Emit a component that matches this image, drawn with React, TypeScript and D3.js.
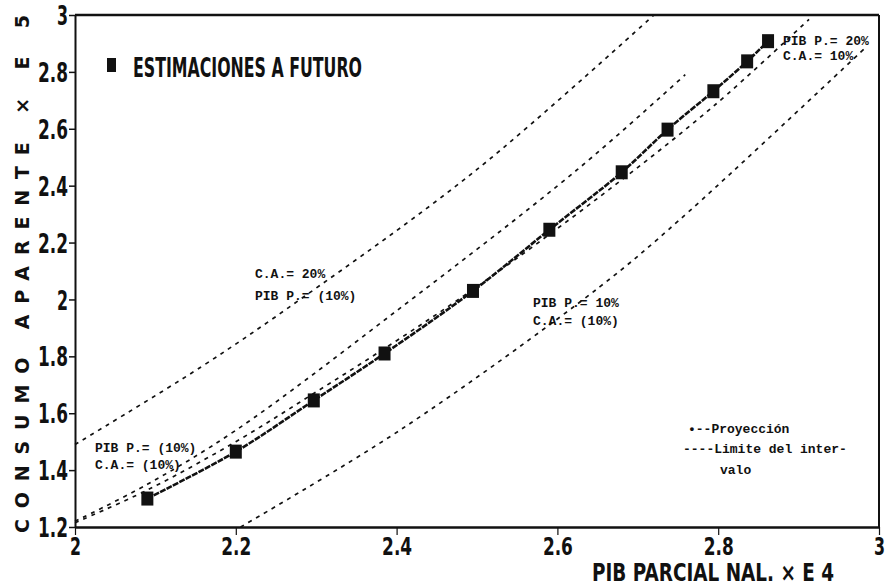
import React, { useEffect, useRef } from 'react';
import * as d3 from 'd3';

// projection points (PIB parcial x E4 vs consumo aparente x E5)
const projX = [2.09, 2.2, 2.297, 2.385, 2.495, 2.59, 2.68, 2.737, 2.794, 2.836, 2.862];
const projY = [1.3, 1.465, 1.645, 1.81, 2.03, 2.245, 2.447, 2.597, 2.732, 2.837, 2.908];

// interval limit curves
const limCA20X = [2.0, 2.157, 2.28, 2.5, 2.72];
const limCA20Y = [1.49, 1.763, 2.0, 2.457, 3.0];

const limPib10X = [2.0, 2.09, 2.2, 2.4, 2.625, 2.759];
const limPib10Y = [1.22, 1.35, 1.54, 1.96, 2.457, 2.79];

const limPib20X = [2.0, 2.09, 2.2, 2.3, 2.4, 2.5, 2.653, 2.794, 2.913];
const limPib20Y = [1.215, 1.33, 1.5, 1.675, 1.855, 2.045, 2.362, 2.679, 2.985];

const limCA10X = [2.206, 2.405, 2.653, 2.752, 2.985];
const limCA10Y = [1.2, 1.542, 2.045, 2.28, 2.89];

const xTicks = [2, 2.2, 2.4, 2.6, 2.8, 3];
const yTicks = [1.2, 1.4, 1.6, 1.8, 2, 2.2, 2.4, 2.6, 2.8, 3];

const App = () => {
    const ref = useRef<SVGSVGElement>(null);

    useEffect(() => {
        drawChart();
    }, []);

    const drawChart = () => {
        const width = 885,
            height = 587,
            left = 75,
            right = 879,
            top = 15,
            bottom = 527,
            ink = '#111',
            mono = "'Liberation Mono', 'DejaVu Sans Mono', monospace",
            sans = "'DejaVu Sans', sans-serif";

        const svg = d3.select(ref.current);
        svg.selectAll('*').remove();
        svg.attr('width', width).attr('height', height);

        svg.append('rect').attr('width', width).attr('height', height).attr('fill', '#fff');

        const x = d3.scaleLinear().domain([2, 3]).range([left, right]);
        const y = d3.scaleLinear().domain([1.2, 3]).range([bottom, top]);

        const fmt = (d: number) => (Number.isInteger(d) ? String(d) : d.toFixed(1));
        const lblW = (s: string) => (s.length === 1 ? 11 : 30);

        // Y axis
        const yAxis = d3.axisLeft(y).tickValues(yTicks).tickFormat(fmt as any).tickSize(6).tickSizeOuter(0);
        const gy = svg.append('g').attr('transform', `translate(${left},0)`).call(yAxis);
        gy.select('.domain').attr('stroke', ink).attr('stroke-width', 2);
        gy.selectAll('.tick line').attr('stroke', ink).attr('stroke-width', 1.5);
        gy.selectAll('.tick text')
            .attr('x', -7)
            .attr('dy', '0.37em')
            .attr('fill', ink)
            .style('font-family', sans)
            .style('font-weight', 'bold')
            .style('font-size', '26px')
            .attr('textLength', (d: any) => lblW(fmt(d)))
            .attr('lengthAdjust', 'spacingAndGlyphs');

        // X axis
        const xAxis = d3.axisBottom(x).tickValues(xTicks).tickFormat(fmt as any).tickSize(8).tickSizeOuter(0);
        const gx = svg.append('g').attr('transform', `translate(0,${bottom})`).call(xAxis);
        gx.select('.domain').attr('stroke', ink).attr('stroke-width', 2.5);
        gx.selectAll('.tick line').attr('stroke', ink).attr('stroke-width', 1.2);
        gx.selectAll('.tick text')
            .attr('y', 10)
            .attr('dy', '0.72em')
            .attr('fill', ink)
            .style('font-family', sans)
            .style('font-weight', 'bold')
            .style('font-size', '25px')
            .attr('textLength', (d: any) => lblW(fmt(d)))
            .attr('lengthAdjust', 'spacingAndGlyphs');

        // frame top / right
        svg.append('line').attr('x1', left).attr('x2', right).attr('y1', top).attr('y2', top)
            .attr('stroke', ink).attr('stroke-width', 2.5);
        svg.append('line').attr('x1', right).attr('x2', right).attr('y1', top).attr('y2', bottom)
            .attr('stroke', ink).attr('stroke-width', 2);

        const line = d3.line<[number, number]>()
            .x(d => x(d[0]))
            .y(d => y(d[1]))
            .curve(d3.curveCatmullRom);

        const limits = [
            [limCA20X, limCA20Y],
            [limPib10X, limPib10Y],
            [limPib20X, limPib20Y],
            [limCA10X, limCA10Y],
        ];
        limits.forEach(([xs, ys]) => {
            svg.append('path')
                .datum(xs.map((v, i) => [v, ys[i]] as [number, number]))
                .attr('d', line)
                .attr('fill', 'none')
                .attr('stroke', ink)
                .attr('stroke-width', 1.7)
                .attr('stroke-dasharray', '4,5');
        });

        // projection line + markers
        const proj = projX.map((v, i) => [v, projY[i]] as [number, number]);
        svg.append('path')
            .datum(proj)
            .attr('d', line)
            .attr('fill', 'none')
            .attr('stroke', ink)
            .attr('stroke-width', 2.6)
            .attr('stroke-dasharray', '6,1.2');
        svg.selectAll('.mk')
            .data(proj)
            .enter()
            .append('rect')
            .attr('class', 'mk')
            .attr('x', d => x(d[0]) - 6)
            .attr('y', d => y(d[1]) - 7)
            .attr('width', 12)
            .attr('height', 14)
            .attr('fill', ink);

        // legend heading
        svg.append('rect').attr('x', 107).attr('y', 58).attr('width', 9).attr('height', 14).attr('fill', ink);
        svg.append('text')
            .attr('x', 133).attr('y', 77)
            .attr('fill', ink)
            .style('font-family', sans).style('font-weight', 'bold').style('font-size', '27px')
            .attr('textLength', 229).attr('lengthAdjust', 'spacingAndGlyphs')
            .text('ESTIMACIONES A FUTURO');

        // axis titles
        svg.append('text')
            .attr('x', 592).attr('y', 581)
            .attr('fill', ink)
            .style('font-family', sans).style('font-weight', 'bold').style('font-size', '25px')
            .attr('textLength', 242).attr('lengthAdjust', 'spacingAndGlyphs')
            .text('PIB PARCIAL NAL. × E 4');

        svg.append('text')
            .attr('transform', 'translate(29,533) rotate(-90)')
            .attr('fill', ink)
            .style('font-family', sans).style('font-weight', 'bold').style('font-size', '19px')
            .attr('textLength', 518).attr('lengthAdjust', 'spacing')
            .text('CONSUMO APARENTE × E 5');

        // curve annotations
        const notes = [
            { x: 255, y: 278, t: 'C.A.= 20%' },
            { x: 255, y: 300, t: 'PIB P.= (10%)' },
            { x: 533, y: 307, t: 'PIB P.= 10%' },
            { x: 533, y: 325, t: 'C.A.= (10%)' },
            { x: 95, y: 452, t: 'PIB P.= (10%)' },
            { x: 95, y: 469, t: 'C.A.= (10%)' },
            { x: 783, y: 45, t: 'PIB P.= 20%' },
            { x: 783, y: 60, t: 'C.A.= 10%' },
            { x: 688, y: 433, t: '•--Proyección' },
            { x: 683, y: 453, t: '----Limite del inter-' },
            { x: 720, y: 474, t: 'valo' },
        ];
        svg.selectAll('.note')
            .data(notes)
            .enter()
            .append('text')
            .attr('class', 'note')
            .attr('x', d => d.x)
            .attr('y', d => d.y)
            .attr('fill', ink)
            .style('font-family', mono)
            .style('font-weight', 'bold')
            .style('font-size', '13px')
            .text(d => d.t);
    };

    return (
        <svg ref={ref} style={{ position: 'absolute', left: 0, top: 0, display: 'block' }} />
    );
};

export default App;
